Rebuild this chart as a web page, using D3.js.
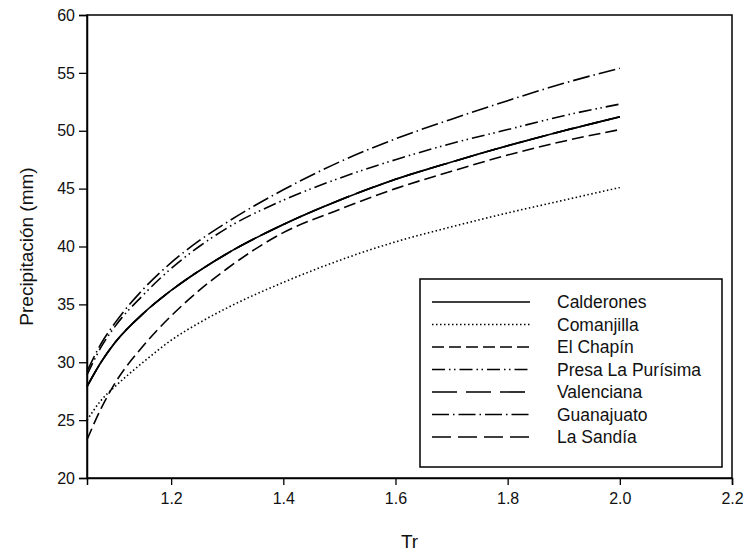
<!DOCTYPE html>
<html>
<head>
<meta charset="utf-8">
<script src="https://cdn.jsdelivr.net/npm/d3@7"></script>
<style>
  html, body { margin: 0; padding: 0; background: #fff; }
  svg { display: block; font-family: "Liberation Sans", Arial, sans-serif; }
</style>
</head>
<body>
<svg id="chart" width="743" height="552"></svg>
<script>
// Return period (years)
const tr = [1.05, 1.075, 1.1, 1.15, 1.2, 1.25, 1.3, 1.4, 1.5, 1.6, 1.7, 1.8, 1.9, 2.0];

// Precipitation (mm) per station
const calderones = [27.9, 30.0, 31.7, 34.2, 36.2, 37.9, 39.4, 41.9, 44.0, 45.8, 47.3, 48.7, 50.0, 51.2];
const comanjilla = [25.0, 26.7, 27.9, 30.0, 31.9, 33.4, 34.7, 36.9, 38.8, 40.4, 41.7, 42.9, 44.0, 45.1];
const elChapin = [23.3, 26.0, 28.2, 31.4, 34.0, 36.2, 38.1, 41.2, 43.2, 45.0, 46.5, 47.9, 49.1, 50.1];
const presaLaPurisima = [28.9, 31.3, 33.1, 35.8, 38.1, 40.0, 41.6, 44.0, 45.9, 47.5, 48.9, 50.1, 51.3, 52.3];
const valenciana = [27.9, 30.0, 31.7, 34.2, 36.2, 37.9, 39.4, 41.9, 44.0, 45.8, 47.3, 48.7, 50.0, 51.2];
const guanajuato = [29.2, 31.6, 33.4, 36.3, 38.6, 40.5, 42.1, 44.9, 47.3, 49.3, 51.0, 52.6, 54.1, 55.4];
const laSandia = [27.9, 30.0, 31.7, 34.2, 36.2, 37.9, 39.4, 41.9, 44.0, 45.8, 47.3, 48.7, 50.0, 51.2];

const stationNames = ["Calderones", "Comanjilla", "El Chapín", "Presa La Purísima", "Valenciana", "Guanajuato", "La Sandía"];
const stationValues = [calderones, comanjilla, elChapin, presaLaPurisima, valenciana, guanajuato, laSandia];

const xTicks = [1.2, 1.4, 1.6, 1.8, 2.0, 2.2];
const yTicks = [20, 25, 30, 35, 40, 45, 50, 55, 60];

// Line styles for each station (dash patterns in px)
const dashes = {
  "Calderones": null,
  "Comanjilla": "1.5,2.5",
  "El Chapín": "12,5",
  "Presa La Purísima": "13,4,1.5,3.5,1.5,4",
  "Valenciana": "25,9",
  "Guanajuato": "17,4,1.5,4",
  "La Sandía": "19,7"
};

const svg = d3.select("#chart");
const plotLeft = 87, plotRight = 732, plotTop = 15, plotBottom = 478;

const x = d3.scaleLinear().domain([1.05, 2.2]).range([plotLeft, plotRight]);
const y = d3.scaleLinear().domain([20, 60]).range([plotBottom, plotTop]);

const series = stationNames.map((name, i) => ({
  name,
  points: tr.map((t, j) => ({ t, v: stationValues[i][j] }))
}));

const line = d3.line()
  .x(d => x(d.t))
  .y(d => y(d.v))
  .curve(d3.curveMonotoneX);

// Curves: solid Calderones drawn last so it sits on top
const drawOrder = series.slice(1).concat([series[0]]);
svg.append("g")
  .selectAll("path")
  .data(drawOrder)
  .join("path")
  .attr("d", d => line(d.points))
  .attr("fill", "none")
  .attr("stroke", "#000")
  .attr("stroke-width", 1.6)
  .attr("stroke-dasharray", d => dashes[d.name]);

// Frame
svg.append("rect")
  .attr("x", plotLeft).attr("y", plotTop)
  .attr("width", plotRight - plotLeft).attr("height", plotBottom - plotTop)
  .attr("fill", "none").attr("stroke", "#000").attr("stroke-width", 1.5);

// Axes
const xAxis = d3.axisBottom(x).tickValues(xTicks).tickFormat(d3.format(".1f"))
  .tickSize(7).tickPadding(8);
const yAxis = d3.axisLeft(y).tickValues(yTicks).tickFormat(d3.format("d"))
  .tickSize(8).tickPadding(4);

const gx = svg.append("g").attr("transform", `translate(0,${plotBottom})`).call(xAxis);
const gy = svg.append("g").attr("transform", `translate(${plotLeft},0)`).call(yAxis);
[gx, gy].forEach(g => {
  g.select(".domain").attr("stroke", "#000").attr("stroke-width", 1.5);
  g.selectAll(".tick line").attr("stroke", "#000").attr("stroke-width", 1.3);
  g.selectAll(".tick text").attr("fill", "#111").style("font-size", "16px")
    .style("font-family", "'Liberation Sans', Arial, sans-serif");
});

// Axis titles
svg.append("text")
  .attr("x", (plotLeft + plotRight) / 2).attr("y", 548)
  .attr("text-anchor", "middle")
  .style("font-size", "19px").attr("fill", "#111")
  .text("Tr");

svg.append("text")
  .attr("transform", `translate(33,${(plotTop + plotBottom) / 2}) rotate(-90)`)
  .attr("text-anchor", "middle")
  .style("font-size", "19px").attr("fill", "#111")
  .text("Precipitación (mm)");

// Legend
const legend = svg.append("g");
legend.append("rect")
  .attr("x", 420).attr("y", 279)
  .attr("width", 302).attr("height", 188)
  .attr("fill", "#fff").attr("stroke", "#000").attr("stroke-width", 1.5);

const rows = legend.selectAll("g.row")
  .data(series)
  .join("g")
  .attr("class", "row")
  .attr("transform", (d, i) => `translate(0,${302 + i * 22.5})`);

rows.append("line")
  .attr("x1", 432).attr("x2", 530)
  .attr("y1", 0).attr("y2", 0)
  .attr("stroke", "#000").attr("stroke-width", 1.6)
  .attr("stroke-dasharray", d => dashes[d.name]);

rows.append("text")
  .attr("x", 557).attr("y", 0).attr("dy", "0.35em")
  .style("font-size", "17.5px").attr("fill", "#111")
  .text(d => d.name);
</script>
</body>
</html>
